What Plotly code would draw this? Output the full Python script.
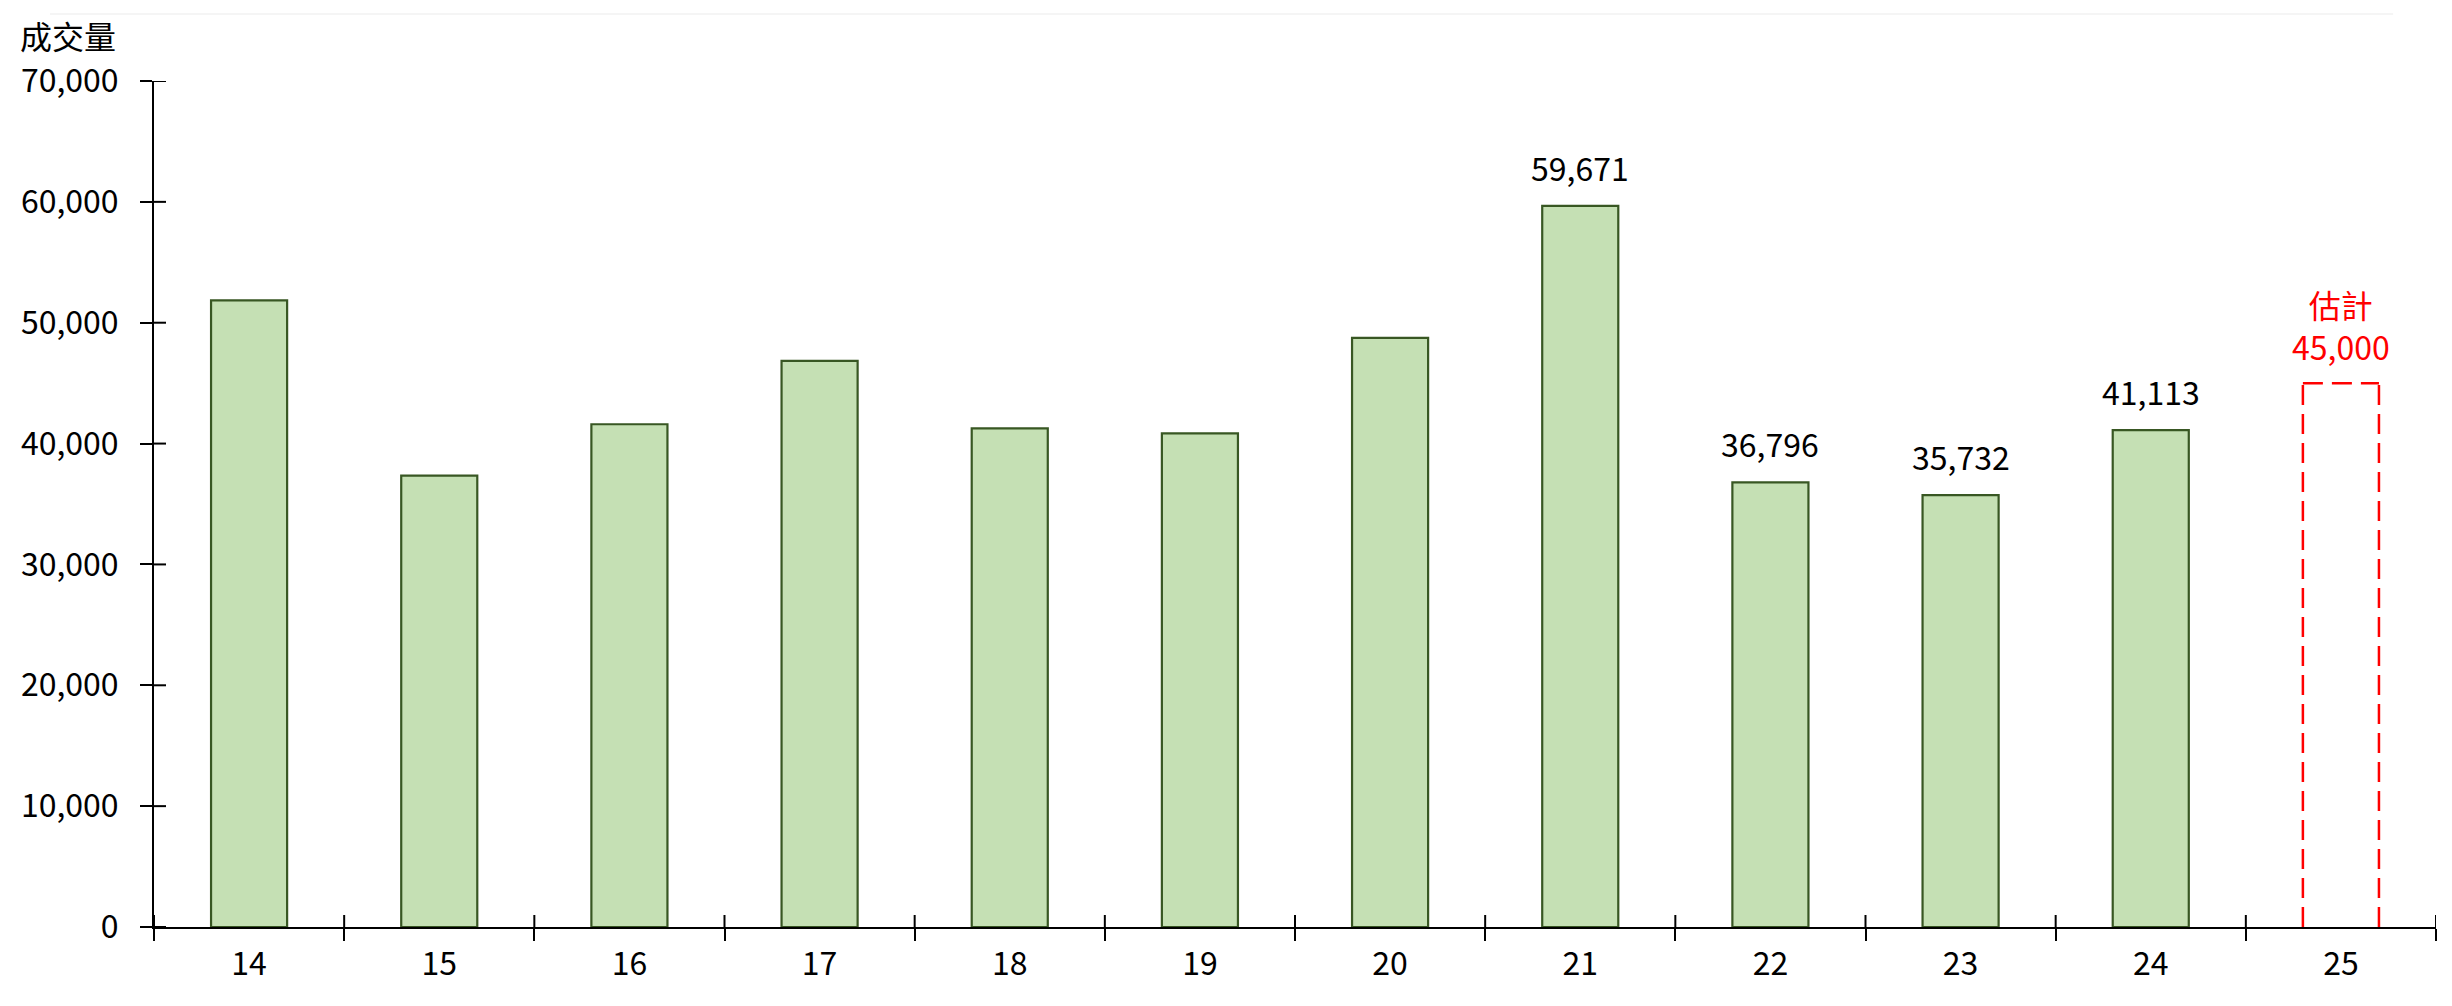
import plotly.graph_objects as go

categories = ["14", "15", "16", "17", "18", "19", "20", "21", "22", "23", "24", "25"]
values = [51850, 37350, 41600, 46850, 41250, 40850, 48750, 59671, 36796, 35732, 41113]
labeled = [False, False, False, False, False, False, False, True, True, True, True]
estimate_category = "25"
estimate_value = 45000
estimate_label = "估計"
y_title = "成交量"
y_ticks = [0, 10000, 20000, 30000, 40000, 50000, 60000, 70000]

FONT = "Noto Sans CJK TC, Noto Sans, sans-serif"
FS = 32
BLACK = "#000000"
RED = "#FF0000"

fig = go.Figure()
fig.add_trace(go.Bar(
    x=categories[:len(values)], y=values,
    marker=dict(color="#C5E0B4", line=dict(color="#385723", width=2.2)),
    hoverinfo="x+y", showlegend=False,
))

# category serial positions (category axes accept the serial number of a category)
pos = {c: i for i, c in enumerate(categories)}
est_i = pos[estimate_category]

annotations = []
for c, v, lab in zip(categories, values, labeled):
    if lab:
        annotations.append(dict(x=pos[c], y=v, xref="x", yref="y", text=f"{v:,}",
                                showarrow=False, yanchor="bottom", yshift=14,
                                font=dict(family=FONT, size=FS, color=BLACK)))
annotations.append(dict(x=est_i, y=estimate_value, xref="x", yref="y",
                        text=f"{estimate_label}<br>{estimate_value:,}",
                        showarrow=False, yanchor="bottom", yshift=12,
                        font=dict(family=FONT, size=FS, color=RED)))
annotations.append(dict(x=-0.0596, y=1.054, xref="paper", yref="paper", text=y_title,
                        showarrow=False, xanchor="left", yanchor="middle",
                        font=dict(family=FONT, size=FS, color=BLACK)))

# open-bottom dashed outline of the estimate bar
est_line = dict(color=RED, width=2.5, dash="20px,9px")
shapes = [
    dict(type="line", xref="x", yref="y", x0=est_i, x1=est_i, x0shift=-0.2, x1shift=-0.2,
         y0=0, y1=estimate_value, line=est_line),
    dict(type="line", xref="x", yref="y", x0=est_i, x1=est_i, x0shift=0.2, x1shift=0.2,
         y0=0, y1=estimate_value, line=est_line),
    dict(type="line", xref="x", yref="y", x0=est_i, x1=est_i, x0shift=-0.2, x1shift=0.2,
         y0=estimate_value, y1=estimate_value, line=est_line),
]

# inner halves of the axis ticks (ticks cross the axis lines)
for c in categories:
    shapes.append(dict(type="line", xref="x", yref="y", x0=pos[c], x1=pos[c],
                       x0shift=-0.5, x1shift=-0.5, ysizemode="pixel", yanchor=0,
                       y0=0, y1=12, line=dict(color=BLACK, width=2)))
shapes.append(dict(type="line", xref="x", yref="y", x0=pos[categories[-1]],
                   x1=pos[categories[-1]], x0shift=0.5, x1shift=0.5,
                   ysizemode="pixel", yanchor=0, y0=0, y1=12,
                   line=dict(color=BLACK, width=2)))
for t in y_ticks:
    shapes.append(dict(type="line", xref="paper", yref="y", xsizemode="pixel", xanchor=0,
                       x0=0, x1=12, y0=t, y1=t, line=dict(color=BLACK, width=2)))

# faint frame line at the very top of the picture
shapes.append(dict(type="line", xref="paper", yref="paper", x0=-0.0456, x1=0.9812,
                   y0=1.0792, y1=1.0792, line=dict(color="#F2F2F2", width=1.5)))

n = len(categories)
fig.update_layout(
    width=2452, height=1006,
    margin=dict(l=154, r=16, t=81, b=79),
    paper_bgcolor="white", plot_bgcolor="white",
    bargap=0.6,
    font=dict(family=FONT, size=FS, color=BLACK),
    xaxis=dict(type="category", categoryorder="array", categoryarray=categories,
               range=[-0.5, n - 0.5], tickson="boundaries", ticks="outside",
               ticklen=12, tickwidth=2, tickcolor=BLACK, showline=True, linewidth=2,
               linecolor=BLACK, showgrid=False, zeroline=False, ticklabelstandoff=8,
               tickfont=dict(family=FONT, size=FS, color=BLACK), automargin=False),
    yaxis=dict(range=[0, 70000], tickvals=y_ticks, tickformat=",d", ticks="outside",
               ticklen=12, tickwidth=2, tickcolor=BLACK, showline=True, linewidth=2,
               linecolor=BLACK, showgrid=False, zeroline=False, ticklabelstandoff=15,
               tickfont=dict(family=FONT, size=FS, color=BLACK), automargin=False),
    annotations=annotations,
    shapes=shapes,
)

fig.write_html("out.html", config={"displayModeBar": False},
               post_script="document.body.style.margin='0';")
